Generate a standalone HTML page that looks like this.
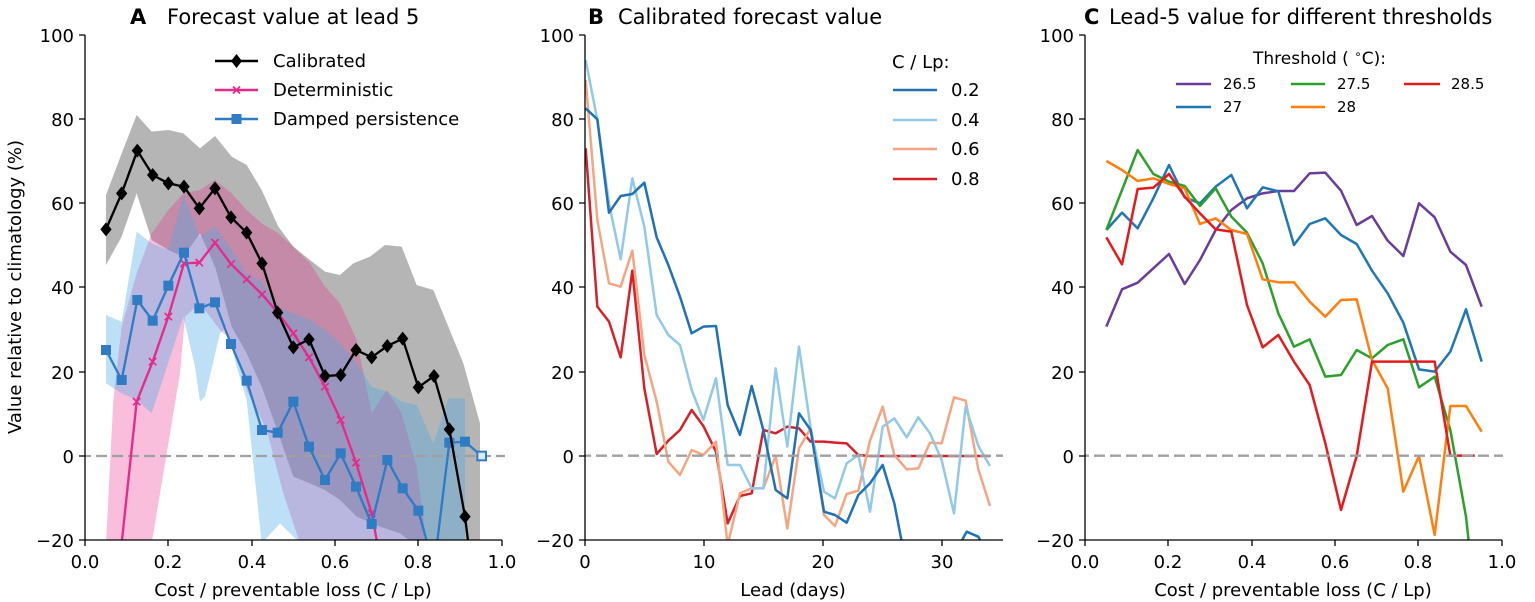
<!DOCTYPE html>
<html><head><meta charset="utf-8"><style>
html,body{margin:0;padding:0;background:#fff}
svg{display:block;font-family:"DejaVu Sans","Liberation Sans",sans-serif}
</style></head><body>
<svg width="1535" height="602" viewBox="0 0 1535 602" xmlns="http://www.w3.org/2000/svg">
<defs>
<clipPath id="ca"><rect x="85" y="33" width="420" height="507"/></clipPath>
<clipPath id="cb"><rect x="585" y="33" width="418" height="507"/></clipPath>
<clipPath id="cc"><rect x="1085" y="33" width="418" height="507"/></clipPath>
<path id="dia" d="M0,-21 L17,0 L0,21 L-17,0Z" fill="#000"/>
<rect id="sq" x="-15" y="-15" width="30" height="30" fill="#2f7bc4"/>
<path id="xx" d="M-11,-11 L11,11 M-11,11 L11,-11" stroke="#e7298a" stroke-width="5"/>
</defs>

<!-- ================= PANEL A ================= -->
<g clip-path="url(#ca)">
<g transform="translate(80,100) scale(0.333333)">
<!-- gray band -->
<polygon fill="#808080" fill-opacity="0.58" points="78,285 125,160 170,45 215,95 265,90 310,100 360,145 405,108 455,170 500,195 545,270 595,380 640,440 690,480 735,515 780,525 820,490 870,470 915,435 965,440 1010,555 1060,570 1105,680 1150,790 1200,970 1200,1330 1040,1330 1000,1330 960,1300 900,1280 830,1250 780,1200 735,1170 690,1150 640,1130 595,1000 545,860 500,760 455,680 405,500 360,400 310,470 265,450 215,420 170,280 125,410 78,495"/>
<!-- pink band -->
<polygon fill="#e7298a" fill-opacity="0.3" points="78,1330 100,900 125,680 170,520 215,400 265,330 310,280 360,270 405,240 455,280 500,330 545,370 595,400 640,440 690,490 735,560 780,610 830,720 875,940 920,870 965,940 1010,1100 1040,1330 660,1330 610,1180 560,990 500,870 455,720 420,690 360,610 315,650 300,820 215,1330"/>
<!-- light blue band -->
<polygon fill="#4aa8e8" fill-opacity="0.36" points="78,645 125,665 170,395 215,430 265,450 310,285 360,410 405,380 455,450 500,520 545,545 595,620 640,640 690,660 735,690 780,730 830,790 875,860 920,875 965,905 1010,915 1060,1030 1105,895 1155,895 1155,1330 660,1330 600,1270 545,1330 500,900 470,800 440,680 420,700 375,890 360,905 345,800 310,650 215,940 170,900 125,880 78,850"/>
<!-- zero line -->
<line x1="0" y1="1068" x2="1300" y2="1068" stroke="#a0a0a0" stroke-width="7" stroke-dasharray="33,15"/>
<!-- deterministic -->
<polyline fill="none" stroke="#e7298a" stroke-width="7" points="125,1330 170,905 218,785 265,650 312,490 358,488 405,428 453,492 500,538 546,583 593,638 640,700 687,772 735,860 782,960 828,1088 875,1240 892,1330"/>
<g>
<use href="#xx" x="170" y="905"/><use href="#xx" x="218" y="785"/><use href="#xx" x="265" y="650"/><use href="#xx" x="312" y="490"/><use href="#xx" x="358" y="488"/><use href="#xx" x="405" y="428"/><use href="#xx" x="453" y="492"/><use href="#xx" x="500" y="538"/><use href="#xx" x="546" y="583"/><use href="#xx" x="593" y="638"/><use href="#xx" x="640" y="700"/><use href="#xx" x="687" y="772"/><use href="#xx" x="735" y="860"/><use href="#xx" x="782" y="960"/><use href="#xx" x="828" y="1088"/><use href="#xx" x="875" y="1240"/>
</g>
<!-- damped -->
<polyline fill="none" stroke="#2f7bc4" stroke-width="7" points="78,750 125,840 172,600 218,662 265,557 312,458 358,625 405,607 453,732 500,842 546,990 593,998 640,905 687,1040 735,1140 782,1060 828,1160 875,1272 922,1080 968,1165 1015,1232 1045,1340 1070,1340 1108,1028 1155,1025 1205,1068"/>
<g>
<use href="#sq" x="78" y="750"/><use href="#sq" x="125" y="840"/><use href="#sq" x="172" y="600"/><use href="#sq" x="218" y="662"/><use href="#sq" x="265" y="557"/><use href="#sq" x="312" y="458"/><use href="#sq" x="358" y="625"/><use href="#sq" x="405" y="607"/><use href="#sq" x="453" y="732"/><use href="#sq" x="500" y="842"/><use href="#sq" x="546" y="990"/><use href="#sq" x="593" y="998"/><use href="#sq" x="640" y="905"/><use href="#sq" x="687" y="1040"/><use href="#sq" x="735" y="1140"/><use href="#sq" x="782" y="1060"/><use href="#sq" x="828" y="1160"/><use href="#sq" x="875" y="1272"/><use href="#sq" x="922" y="1080"/><use href="#sq" x="968" y="1165"/><use href="#sq" x="1015" y="1232"/><use href="#sq" x="1108" y="1028"/><use href="#sq" x="1155" y="1025"/>
<rect x="1192" y="1055" width="26" height="26" fill="#d8eaf8" stroke="#2f7bc4" stroke-width="6"/>
</g>
<!-- calibrated -->
<polyline fill="none" stroke="#000" stroke-width="7" points="78,388 125,280 172,152 218,225 265,250 312,260 358,325 405,265 453,352 500,398 546,490 593,638 640,742 687,718 735,828 782,825 828,750 875,772 922,738 968,716 1015,862 1062,828 1108,988 1155,1250 1165,1330"/>
<g>
<use href="#dia" x="78" y="388"/><use href="#dia" x="125" y="280"/><use href="#dia" x="172" y="152"/><use href="#dia" x="218" y="225"/><use href="#dia" x="265" y="250"/><use href="#dia" x="312" y="260"/><use href="#dia" x="358" y="325"/><use href="#dia" x="405" y="265"/><use href="#dia" x="453" y="352"/><use href="#dia" x="500" y="398"/><use href="#dia" x="546" y="490"/><use href="#dia" x="593" y="638"/><use href="#dia" x="640" y="742"/><use href="#dia" x="687" y="718"/><use href="#dia" x="735" y="828"/><use href="#dia" x="782" y="825"/><use href="#dia" x="828" y="750"/><use href="#dia" x="875" y="772"/><use href="#dia" x="922" y="738"/><use href="#dia" x="968" y="716"/><use href="#dia" x="1015" y="862"/><use href="#dia" x="1062" y="828"/><use href="#dia" x="1108" y="988"/><use href="#dia" x="1155" y="1250"/>
</g>
</g>
</g>
<!-- A axes -->
<g stroke="#000" stroke-width="1.3" fill="none">
<path d="M85,35 V540 H502"/>
<path d="M79,35H85 M79,119H85 M79,203H85 M79,287H85 M79,372H85 M79,456H85 M79,540H85"/>
<path d="M85,540V546 M168,540V546 M252,540V546 M335,540V546 M418,540V546 M502,540V546"/>
</g>
<g font-size="18" fill="#000" text-anchor="end">
<text x="74" y="42">100</text><text x="74" y="126">80</text><text x="74" y="210">60</text><text x="74" y="294">40</text><text x="74" y="379">20</text><text x="74" y="463">0</text><text x="74" y="547">−20</text>
</g>
<g font-size="18" fill="#000" text-anchor="middle">
<text x="85" y="568">0.0</text><text x="168" y="568">0.2</text><text x="252" y="568">0.4</text><text x="335" y="568">0.6</text><text x="418" y="568">0.8</text><text x="502" y="568">1.0</text>
<text x="293" y="596">Cost / preventable loss (C / Lp)</text>
</g>
<text transform="translate(21,287) rotate(-90)" font-size="18" text-anchor="middle">Value relative to climatology (%)</text>
<text x="130" y="24" font-size="21" font-weight="bold">A</text>
<text x="167" y="24" font-size="21">Forecast value at lead 5</text>
<!-- legend A -->
<g stroke-width="2.5">
<line x1="215" y1="61" x2="258" y2="61" stroke="#000"/><path d="M236.5,54 L242,61 L236.5,68 L231,61Z" fill="#000"/>
<line x1="215" y1="90" x2="258" y2="90" stroke="#e7298a"/><path d="M233,86.5 L240,93.5 M233,93.5 L240,86.5" stroke="#e7298a" stroke-width="1.8"/>
<line x1="215" y1="119" x2="258" y2="119" stroke="#2f7bc4"/><rect x="231.5" y="114" width="10" height="10" fill="#2f7bc4"/>
</g>
<g font-size="18"><text x="273" y="67">Calibrated</text><text x="273" y="96">Deterministic</text><text x="273" y="125">Damped persistence</text></g>

<!-- ================= PANEL B ================= -->
<g clip-path="url(#cb)">
<g transform="translate(580,30) scale(0.333333)" fill="none" stroke-width="7.5" stroke-linejoin="round">
<polyline stroke="#d62128" points="17,355 52,830 87,875 122,982 157,722 193,1075 230,1272 265,1232 300,1200 335,1140 370,1188 408,1265 443,1480 480,1398 515,1390 550,1200 587,1210 622,1190 657,1195 692,1235 732,1235 765,1238 800,1240 835,1275 870,1278 1230,1278"/>
<polyline stroke="#f4a582" points="17,150 52,570 87,760 122,770 157,662 193,975 230,1115 265,1295 300,1335 335,1260 370,1275 408,1235 443,1545 480,1390 515,1375 550,1375 587,1278 622,1495 657,1255 692,1195 732,1455 765,1488 800,1392 835,1382 870,1232 908,1130 943,1275 980,1318 1015,1315 1050,1238 1085,1240 1122,1102 1157,1112 1195,1318 1230,1428"/>
<polyline stroke="#92c9e6" points="17,90 52,270 87,520 122,688 157,445 193,590 230,855 265,915 300,945 335,1080 370,1170 408,1045 443,1305 480,1305 515,1375 550,1375 587,1015 622,1250 657,950 692,1195 732,1385 765,1405 800,1300 835,1275 870,1445 908,1190 943,1165 980,1222 1015,1162 1050,1210 1085,1290 1122,1450 1157,1130 1195,1248 1230,1308"/>
<polyline stroke="#2171b5" points="17,235 52,268 87,548 122,498 157,492 193,458 230,622 265,705 300,800 335,910 370,890 408,888 443,1125 480,1215 515,1068 550,1200 587,1380 622,1405 657,1150 692,1200 732,1445 765,1455 800,1478 835,1395 870,1360 908,1305 943,1420 970,1560 1130,1560 1160,1505 1195,1520 1215,1560"/>
<line x1="0" y1="1277" x2="1280" y2="1277" stroke="#a0a0a0" stroke-width="7" stroke-dasharray="33,15"/>
</g>
</g>
<g stroke="#000" stroke-width="1.3" fill="none">
<path d="M585,35 V540 H1003"/>
<path d="M579,35H585 M579,119H585 M579,203H585 M579,287H585 M579,372H585 M579,456H585 M579,540H585"/>
<path d="M585,540V546 M704,540V546 M823,540V546 M942,540V546"/>
</g>
<g font-size="18" fill="#000" text-anchor="end">
<text x="574" y="42">100</text><text x="574" y="126">80</text><text x="574" y="210">60</text><text x="574" y="294">40</text><text x="574" y="379">20</text><text x="574" y="463">0</text><text x="574" y="547">−20</text>
</g>
<g font-size="18" fill="#000" text-anchor="middle">
<text x="585" y="568">0</text><text x="704" y="568">10</text><text x="823" y="568">20</text><text x="942" y="568">30</text>
<text x="793" y="596">Lead (days)</text>
</g>
<text x="588" y="24" font-size="21" font-weight="bold">B</text>
<text x="618" y="24" font-size="21">Calibrated forecast value</text>
<g stroke-width="2.5">
<line x1="893" y1="90" x2="937" y2="90" stroke="#2171b5"/>
<line x1="893" y1="120" x2="937" y2="120" stroke="#92c9e6"/>
<line x1="893" y1="149" x2="937" y2="149" stroke="#f4a582"/>
<line x1="893" y1="179" x2="937" y2="179" stroke="#d62128"/>
</g>
<g font-size="18"><text x="892" y="68">C / Lp:</text><text x="951" y="96">0.2</text><text x="951" y="126">0.4</text><text x="951" y="155">0.6</text><text x="951" y="185">0.8</text></g>

<!-- ================= PANEL C ================= -->
<g clip-path="url(#cc)">
<g transform="translate(1078,30) scale(0.333333)" fill="none" stroke-width="7.5" stroke-linejoin="round">
<polyline stroke="#6a3d9a" points="85,890 132,778 179,758 226,715 273,672 320,762 366,690 413,600 460,540 507,505 554,490 601,483 648,483 695,430 742,428 789,482 836,585 882,558 929,632 976,678 1023,520 1070,562 1117,665 1164,705 1211,830"/>
<polyline stroke="#1f77b4" points="85,600 132,548 179,595 226,505 273,405 320,502 366,520 413,470 460,435 507,535 554,472 601,484 648,645 695,582 742,565 789,615 836,642 882,722 929,790 976,878 1023,1018 1070,1025 1117,965 1164,838 1211,995"/>
<polyline stroke="#2ca02c" points="85,600 132,480 179,360 226,432 273,455 320,468 366,528 413,475 460,560 507,608 554,700 601,850 648,950 695,928 742,1040 789,1035 836,960 882,985 929,945 976,928 1023,1072 1070,1040 1117,1200 1164,1460 1175,1560"/>
<polyline stroke="#ff7f0e" points="85,393 132,420 179,453 226,445 273,462 320,475 366,582 413,565 460,600 507,612 554,748 601,757 648,757 695,815 742,860 789,810 836,808 882,990 929,1075 976,1385 1023,1278 1070,1515 1117,1128 1164,1128 1211,1205"/>
<polyline stroke="#e41a1c" points="85,622 132,703 179,477 226,473 273,432 320,500 366,550 413,598 460,605 507,825 554,952 601,915 648,995 695,1065 742,1240 789,1440 836,1278 882,995 1070,995 1117,1277 1190,1277"/>
<line x1="0" y1="1277" x2="1280" y2="1277" stroke="#a0a0a0" stroke-width="7" stroke-dasharray="33,15"/>
</g>
</g>
<g stroke="#000" stroke-width="1.3" fill="none">
<path d="M1085,35 V540 H1502"/>
<path d="M1079,35H1085 M1079,119H1085 M1079,203H1085 M1079,287H1085 M1079,372H1085 M1079,456H1085 M1079,540H1085"/>
<path d="M1085,540V546 M1168,540V546 M1252,540V546 M1335,540V546 M1418,540V546 M1502,540V546"/>
</g>
<g font-size="18" fill="#000" text-anchor="end">
<text x="1074" y="42">100</text><text x="1074" y="126">80</text><text x="1074" y="210">60</text><text x="1074" y="294">40</text><text x="1074" y="379">20</text><text x="1074" y="463">0</text><text x="1074" y="547">−20</text>
</g>
<g font-size="18" fill="#000" text-anchor="middle">
<text x="1085" y="568">0.0</text><text x="1168" y="568">0.2</text><text x="1252" y="568">0.4</text><text x="1335" y="568">0.6</text><text x="1418" y="568">0.8</text><text x="1502" y="568">1.0</text>
<text x="1293" y="596">Cost / preventable loss (C / Lp)</text>
</g>
<text x="1084" y="24" font-size="21" font-weight="bold">C</text>
<text x="1109" y="24" font-size="21">Lead-5 value for different thresholds</text>
<g stroke-width="2.5">
<line x1="1176" y1="84" x2="1211" y2="84" stroke="#6a3d9a"/>
<line x1="1176" y1="107" x2="1211" y2="107" stroke="#1f77b4"/>
<line x1="1291" y1="84" x2="1325" y2="84" stroke="#2ca02c"/>
<line x1="1291" y1="107" x2="1325" y2="107" stroke="#ff7f0e"/>
<line x1="1404" y1="84" x2="1440" y2="84" stroke="#e41a1c"/>
</g>
<text x="1253" y="64" font-size="17">Threshold ( <tspan font-size="12" dy="-6">∘</tspan><tspan dy="6">C):</tspan></text>
<g font-size="15"><text x="1223" y="89">26.5</text><text x="1223" y="112">27</text><text x="1337" y="89">27.5</text><text x="1337" y="112">28</text><text x="1451" y="89">28.5</text></g>
</svg>
</body></html>
